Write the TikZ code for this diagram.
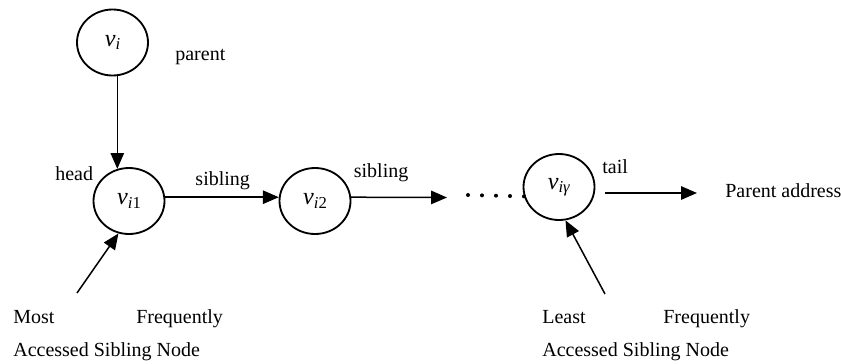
\documentclass[tikz,border=0pt]{standalone}
\usepackage{fontspec}
\setmainfont{Liberation Serif}
\usetikzlibrary{shapes.geometric, positioning, arrows.meta}

\newcommand{\vsub}[1]{\textit{v}\raisebox{-0.3ex}{\fontsize{10}{12}\selectfont #1}}

\begin{document}
\begin{tikzpicture}[
    x=0.6pt, y=-0.6pt,
    member/.style={draw, ellipse, line width=1.1pt, minimum width=42.6pt, minimum height=39.6pt, inner sep=0pt, font=\fontsize{14.5}{16}\selectfont},
    lbl/.style={anchor=base west, inner sep=0pt, font=\fontsize{12}{14}\selectfont},
    conn/.style={line width=0.9pt, -{Triangle[length=9.5pt, width=8pt]}},
    dots/.style={line width=2.4pt, line cap=round, dash pattern=on 0pt off 8.4pt}
]
    \useasboundingbox (0,0) rectangle (841,363);

    % Nodes
    \node[member] (vi)  at (112.5, 42.5) {\vsub{\textit{i}}};
    \node[member] (vi1) at (129, 201) {\vsub{\textit{i}1}};
    \node[member] (vi2) at (315, 201) {\vsub{\textit{i}2}};
    \node[member] (vig) at (559, 187) {\vsub{\textit{iγ}}};

    % Labels
    \node[lbl] (parent) at (175, 60) {parent};
    \node[lbl] (head) at (55, 180) {head};
    \node[lbl] (addr) at (725, 197) {Parent address};
    \node[lbl] (most) at (13, 323) {Most};
    \node[lbl] (mostfreq) at (136, 323) {Frequently};
    \node[lbl] (mostacc) at (13, 356) {Accessed Sibling Node};
    \node[lbl] (least) at (542, 323) {Least};
    \node[lbl] (leastfreq) at (663, 323) {Frequently};
    \node[lbl] (leastacc) at (542, 356) {Accessed Sibling Node};

    % Free ends
    \coordinate (sibend) at (447, 197.5);
    \coordinate (dotstart) at (468, 195);
    \coordinate (tailstart) at (605, 193);
    \coordinate (tailend) at (697, 193);
    \coordinate (mostfoot) at (77, 293);
    \coordinate (leastfoot) at (605, 294);

    % Connections
    \draw[conn] (vi.south -| vi1.110) -- (vi1.110);
    \draw[conn] (vi1.6) -- (vi2.174) node[lbl, pos=0.26, yshift=7pt] {sibling};
    \draw[conn] (vi2.6) -- (sibend) node[lbl, pos=0.02, yshift=12pt] {sibling};
    \draw[dots] (dotstart) -- (vig.195);
    \draw[conn] (tailstart) -- (tailend) node[lbl, pos=0, xshift=-2pt, yshift=11.5pt] {tail};
    \draw[conn] (mostfoot) -- (vi1.252);
    \draw[conn] (leastfoot) -- (vig.281);
\end{tikzpicture}
\end{document}
